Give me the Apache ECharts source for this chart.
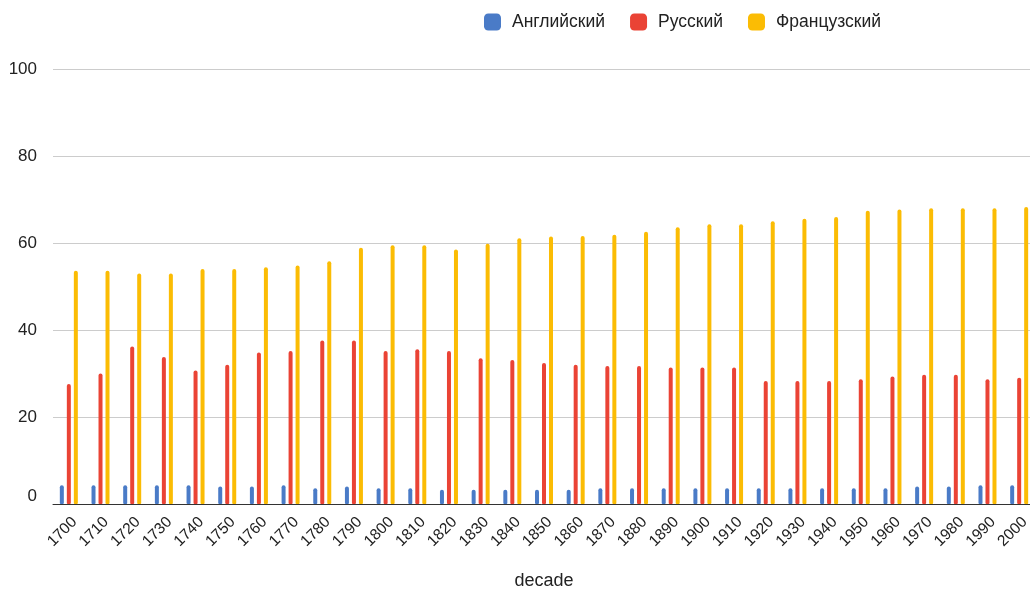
<!DOCTYPE html>
<html>
<head>
<meta charset="utf-8">
<script src="https://cdn.jsdelivr.net/npm/echarts@6/dist/echarts.min.js"></script>
<style>
html,body{margin:0;padding:0;background:#fff;}
#c{width:1030px;height:589px;}
</style>
</head>
<body>
<div id="c"></div>
<script>
const decades = ['1700','1710','1720','1730','1740','1750','1760','1770','1780','1790','1800','1810','1820','1830','1840','1850','1860','1870','1880','1890','1900','1910','1920','1930','1940','1950','1960','1970','1980','1990','2000'];
const english = [4.3,4.3,4.3,4.3,4.3,4.0,4.0,4.3,3.6,4.0,3.6,3.6,3.3,3.3,3.3,3.3,3.3,3.6,3.6,3.6,3.6,3.6,3.6,3.6,3.6,3.6,3.6,4.0,4.0,4.3,4.3];
const russian = [27.6,30.0,36.2,33.8,30.7,32.0,34.8,35.2,37.6,37.6,35.2,35.6,35.2,33.5,33.1,32.4,32.0,31.7,31.7,31.4,31.4,31.4,28.3,28.3,28.3,28.7,29.3,29.7,29.7,28.7,29.0];
const french = [53.6,53.6,53.0,53.0,54.0,54.0,54.4,54.8,55.8,58.9,59.5,59.5,58.5,59.8,61.1,61.5,61.6,61.9,62.6,63.6,64.3,64.3,65.0,65.6,66.0,67.4,67.7,68.0,68.0,68.0,68.3];
const seriesNames = ['Английский','Русский','Французский'];
const colors = ['#4a7bc7','#ea4335','#fbbc04'];
const yTicks = {min:0, max:100, interval:20};

const font = 'Liberation Sans, Arial, sans-serif';
const chart = echarts.init(document.getElementById('c'));
const mk = (name, data, color) => ({
  name, type:'bar', data, barWidth:4, barGap:'75%',
  itemStyle:{color, borderRadius:[2,2,1,1]}
});
chart.setOption({
  animation:false,
  color: colors,
  legend:{
    left:479, top:8, itemWidth:17, itemHeight:17, itemGap:25,
    icon:'roundRect',
    textStyle:{fontFamily:font, fontSize:17.5, color:'#222', padding:[0,0,0,6]},
    data: seriesNames
  },
  grid:{left:53, width:982, top:69, bottom:85, containLabel:false, outerBoundsMode:'none'},
  xAxis:{
    type:'category', data:decades,
    axisLine:{lineStyle:{color:'#333', width:1}},
    axisTick:{show:false},
    axisLabel:{rotate:45, margin:10, align:'right', verticalAlign:'top',
      fontFamily:font, fontSize:15.5, color:'#222', interval:0},
    name:'decade', nameLocation:'middle', nameGap:68,
    nameTextStyle:{fontFamily:font, fontSize:18, color:'#222'}
  },
  yAxis:{
    type:'value', min:yTicks.min, max:yTicks.max, interval:yTicks.interval,
    axisLine:{show:false}, axisTick:{show:false},
    axisLabel:{margin:16, fontFamily:font, fontSize:17, color:'#222',
      formatter: v => v === 0 ? '{z|0}' : String(v),
      rich:{z:{fontFamily:font, fontSize:17, color:'#222', padding:[0,0,16,0]}}
    },
    splitLine:{lineStyle:{color:'#cccccc', width:1}}
  },
  series:[
    mk(seriesNames[0], english, colors[0]),
    mk(seriesNames[1], russian, colors[1]),
    mk(seriesNames[2], french, colors[2])
  ]
});
</script>
</body>
</html>
